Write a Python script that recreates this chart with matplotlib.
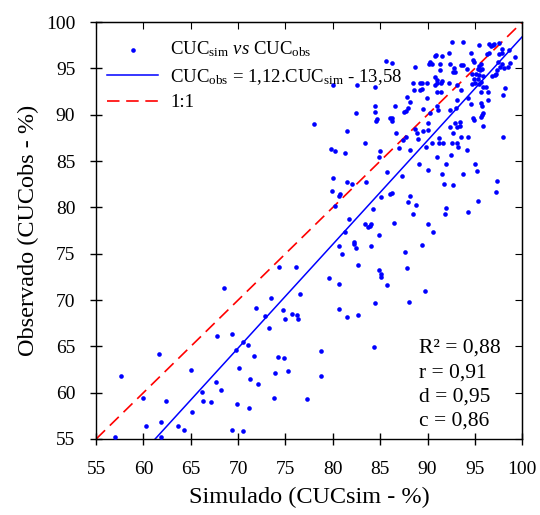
import matplotlib
matplotlib.use("Agg")
import matplotlib.pyplot as plt
import numpy as np

plt.rcParams['font.family'] = ['Liberation Serif', 'DejaVu Serif']
plt.rcParams['mathtext.fontset'] = 'custom'
plt.rcParams['mathtext.rm'] = 'Liberation Serif'
plt.rcParams['mathtext.it'] = 'Liberation Serif:italic'

# ---- data ----
sim_low = [57.0, 57.6, 59.9, 60.3, 61.6, 61.8, 61.9, 62.4, 63.6, 64.3, 65.0, 65.1, 66.2, 66.3, 67.1,
           67.7, 67.8, 68.2, 68.5, 69.3, 69.4, 69.8, 69.9, 70.1, 70.5, 70.5, 71.0, 71.1, 71.2, 71.7,
           71.9, 72.1, 72.8, 73.3, 73.5, 73.8, 73.9, 74.2, 74.3, 74.75, 74.8, 74.9, 75.3, 75.7, 76.1,
           76.2, 76.3, 76.5, 77.3, 78.0, 78.7, 78.7, 79.6]
obs_low = [55.2, 61.8, 59.4, 56.4, 64.2, 56.8, 55.25, 59.05, 56.4, 56.0, 62.4, 57.9, 60.1, 59.05, 59.0,
           61.2, 66.1, 60.3, 71.3, 56.0, 66.3, 64.6, 58.8, 62.7, 65.5, 55.9, 65.2, 58.3, 61.5, 64.0,
           69.1, 60.9, 68.3, 67.0, 70.2, 59.4, 62.1, 63.85, 73.6, 68.9, 63.7, 68.0, 62.3, 68.5, 73.6,
           68.4, 67.9, 70.6, 59.3, 89.0, 64.5, 61.8, 72.4]

sim_mid = [79.9, 80.6, 80.8, 80.2, 85.1, 86.0, 86.2, 88.1, 87.9, 88.8, 88.5, 84.2, 81.7, 83.4, 83.7,
           83.9, 84.0, 86.5, 81.3, 84.9, 82.2, 82.2, 82.4, 80.7, 84.0, 89.4, 81.0, 87.6, 82.7, 87.8,
           84.9, 85.1, 85.1, 80.6, 85.7, 89.75, 84.5, 88.0, 80.7, 81.5, 82.7, 84.3,
           97.2, 95.3, 92.0, 91.9, 94.3, 90.1, 90.6]
obs_mid = [81.8, 81.2, 81.4, 80.1, 81.1, 81.4, 81.6, 81.2, 80.6, 80.3, 79.3, 79.8, 78.8, 78.2, 77.9,
           78.0, 78.2, 78.3, 77.3, 77.0, 76.3, 76.0, 75.6, 75.8, 75.8, 75.9, 75.0, 75.2, 73.8, 73.5,
           73.2, 72.8, 72.5, 71.7, 71.6, 71.0, 69.7, 69.8, 69.0, 68.2, 68.4, 64.9,
           81.7, 80.7, 79.9, 79.3, 79.5, 78.2, 77.3]

sim_up = [85.6, 86.2, 88.7, 82.6, 84.5, 80.0, 88.5, 89.2, 88.6, 89.2, 87.8, 88.1, 87.9, 87.7, 87.5,
          86.6, 84.5, 84.5, 82.5, 84.7, 84.6, 86.0, 86.2, 86.3, 81.5, 86.7, 88.7, 88.9, 89.0, 87.7,
          87.4, 83.4, 87.0, 88.1, 79.8, 80.2, 81.3, 85.0, 84.9, 89.05, 85.7, 87.3, 80.0, 81.5, 82.0,
          83.5]
obs_up = [95.8, 95.6, 95.2, 93.2, 93.0, 93.2, 93.4, 93.4, 92.7, 92.7, 91.9, 91.4, 90.7, 90.4, 90.3,
          91.0, 91.0, 90.3, 90.2, 89.5, 89.3, 89.6, 89.6, 89.3, 88.2, 88.0, 88.5, 88.0, 87.4, 87.6,
          87.3, 87.0, 86.4, 86.2, 86.3, 86.1, 85.9, 86.1, 85.4, 84.7, 83.8, 83.4, 83.2, 82.7, 82.5,
          82.7]

sim_top = [92.64, 93.8, 95.49, 96.51, 96.72, 96.9, 97.04, 97.6, 97.92, 98.59, 99.26, 92.32, 94.61, 90.95, 90.8,
           91.51, 96.3, 96.54, 97.53, 97.88, 94.78, 94.92, 90.28, 90.49, 90.21, 91.33, 92.39, 93.52, 93.73, 95.63,
           95.49, 95.31, 95.56, 95.73, 97.49, 97.85, 97.67, 98.1, 98.45, 98.73, 92.81, 92.95, 92.67, 94.22, 91.33,
           94.68, 95.14, 95.49, 95.91, 94.92, 95.38, 95.66, 96.79, 97.14, 97.39, 97.25, 90.8, 91.05, 90.98, 90.8,
           91.54, 91.4, 89.4, 89.92, 89.4, 92.32, 93.16, 93.52, 94.68, 95.03, 95.49, 95.84, 95.63, 96.19, 98.23,
           97.95, 90.98, 91.4, 89.92, 96.44, 96.44, 94.33, 93.09, 93.02, 94.57, 95.63, 95.77, 95.91, 95.77, 95.66,
           89.5, 90.98, 91.16, 92.39, 90.28, 94.85, 94.92, 93.45, 90.0, 90.0, 89.57, 92.92, 93.09, 93.45, 92.39,
           95.84, 92.74, 93.52, 94.33, 97.95, 91.23, 91.26, 90.45, 91.61, 92.57, 93.09, 93.27, 94.22, 89.85, 90.98,
           92.46, 91.97, 95.03, 95.21, 90.1, 91.51, 93.8, 91.76, 92.74, 97.39]
obs_top = [97.84, 97.84, 97.58, 97.62, 97.44, 97.5, 97.69, 97.76, 97.15, 97.04, 96.25, 96.68, 96.68, 96.4, 96.3,
           96.3, 96.61, 96.68, 96.61, 96.72, 95.89, 95.75, 95.68, 95.53, 95.43, 95.43, 95.43, 95.32, 95.39, 95.53,
           95.25, 94.96, 94.81, 94.99, 95.68, 95.53, 95.17, 95.0, 95.17, 95.61, 95.1, 94.63, 94.63, 94.89, 94.81,
           94.38, 94.38, 94.27, 94.17, 93.91, 93.81, 93.56, 94.17, 94.31, 94.81, 94.45, 94.1, 93.73, 93.38, 93.2,
           93.63, 93.38, 93.45, 93.38, 92.76, 93.38, 93.2, 92.66, 93.3, 93.45, 93.27, 93.02, 92.48, 93.02, 92.94,
           92.12, 92.48, 92.48, 91.86, 92.48, 91.58, 91.83, 91.58, 90.68, 91.11, 91.29, 90.93, 90.21, 89.96, 89.78,
           90.57, 90.93, 90.5, 90.5, 90.21, 89.6, 89.42, 89.24, 89.06, 88.41, 88.27, 89.06, 88.7, 88.77, 88.7,
           88.77, 87.98, 87.62, 87.62, 87.55, 87.44, 86.97, 86.97, 86.97, 86.97, 86.97, 86.54, 86.18, 86.54, 85.46,
           85.64, 84.74, 84.67, 83.95, 84.02, 83.66, 83.66, 82.58, 82.4, 82.84]

sim = np.array(sim_low + sim_mid + sim_up + sim_top)
obs = np.array(obs_low + obs_mid + obs_up + obs_top)

slope = 1.12
intercept = -13.58
axis_ticks = [55, 60, 65, 70, 75, 80, 85, 90, 95, 100]
stats = ["R² = 0,88", "r = 0,91", "d = 0,95", "c = 0,86"]

# ---- figure ----
fig = plt.figure(figsize=(5.40, 5.15), dpi=100)
ax = fig.add_axes([0.178, 0.1476, 0.789, 0.8094])

ax.scatter(sim, obs, s=11, color='#0000FF', linewidths=0, zorder=3,
           label=r'CUC$_{\mathrm{sim}}$ $\mathit{vs}$ CUC$_{\mathrm{obs}}$')
xx = np.array([55.0, 100.0])
ax.plot(xx, slope * xx + intercept, color='#0000FF', lw=1.1, zorder=2,
        label=r'CUC$_{\mathrm{obs}}$ = 1,12.CUC$_{\mathrm{sim}}$ - 13,58')
ax.plot(xx, xx, color='#FF0000', lw=1.2, dashes=(7.5, 4), zorder=2, label='1:1')

ax.set_xlim(55, 100)
ax.set_ylim(55, 100)
ax.set_xticks(axis_ticks)
ax.set_yticks(axis_ticks)
ax.tick_params(axis='both', which='major', labelsize=14, direction='inout', length=8, width=1, color='black')
ax.tick_params(axis='x', pad=12)
ax.tick_params(axis='y', pad=11)

# top/right inward ticks
axt = ax.secondary_xaxis('top')
axt.set_xticks(axis_ticks)
axt.tick_params(direction='in', length=5, labeltop=False)
axt.set_xticklabels([])
axr = ax.secondary_yaxis('right')
axr.set_yticks(axis_ticks)
axr.tick_params(direction='in', length=5)
axr.set_yticklabels([])

for sp in ax.spines.values():
    sp.set_linewidth(1.0)

ax.set_xlabel('Simulado (CUCsim - %)', fontsize=17.5, labelpad=6)
ax.set_ylabel('Observado (CUCobs - %)', fontsize=17.5, labelpad=5)

leg = ax.legend(loc='upper left', bbox_to_anchor=(0.0, 0.985), frameon=False, fontsize=13.5,
                handlelength=2.7, handletextpad=0.64, labelspacing=0.4, borderaxespad=0.2,
                markerscale=1.0)

ys = [0.218, 0.158, 0.100, 0.043]
for s, yv in zip(stats, ys):
    ax.text(0.757, yv, s, transform=ax.transAxes, fontsize=15.5, va='center', ha='left')

fig.savefig('out.png', dpi=100)
